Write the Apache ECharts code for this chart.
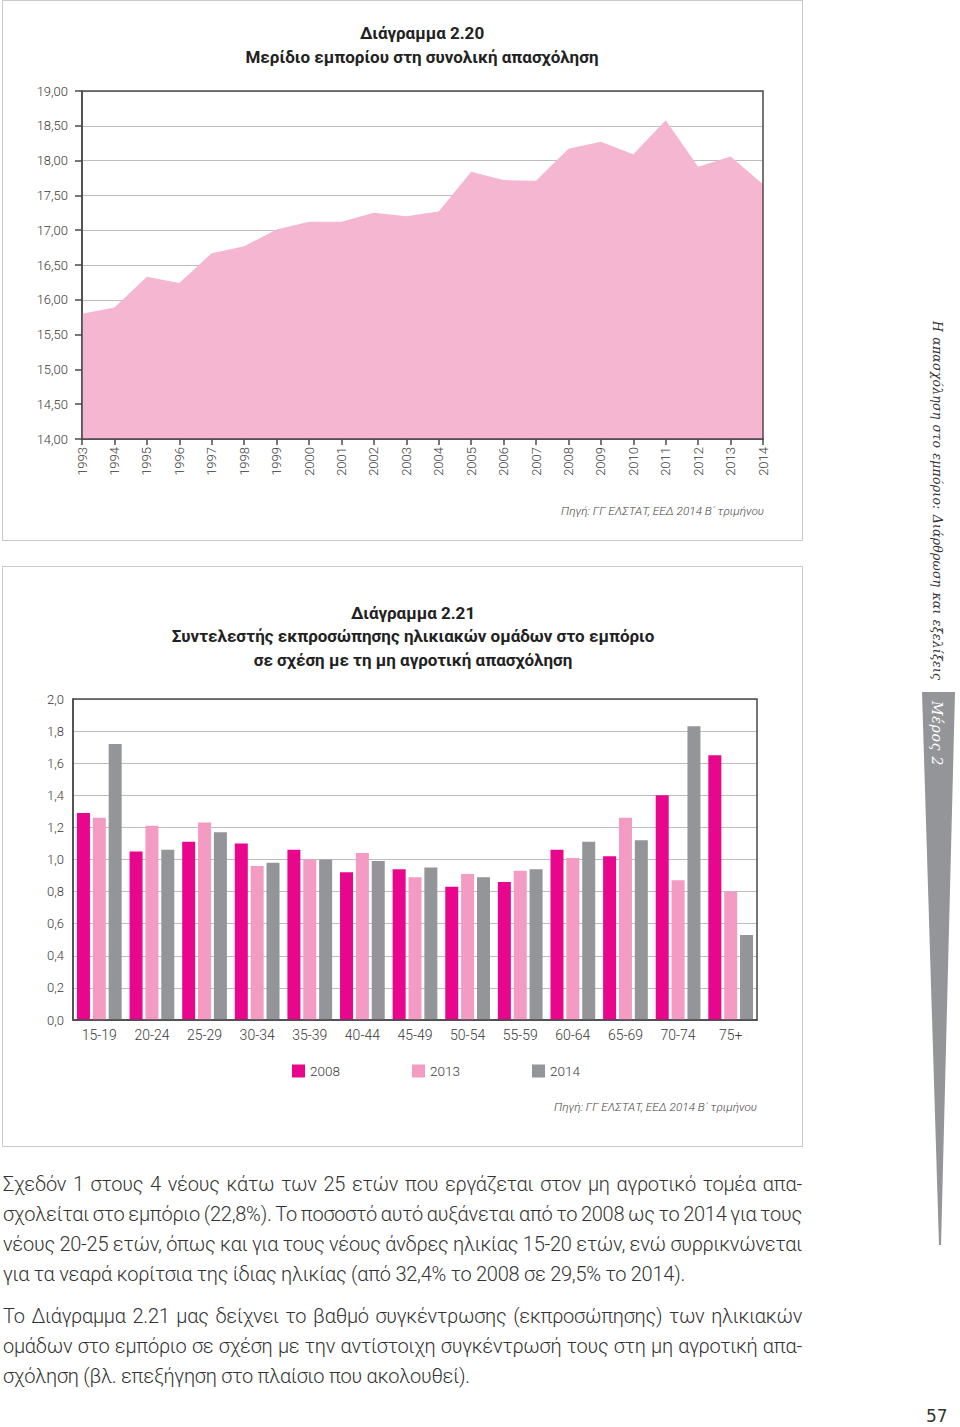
<!DOCTYPE html>
<html>
<head>
<meta charset="utf-8">
<script src="https://cdn.jsdelivr.net/npm/echarts@6/dist/echarts.min.js"></script>
<style>
  html, body { margin: 0; padding: 0; background: #fff; }
  body { width: 960px; height: 1427px; position: relative; overflow: hidden; font-family: Roboto, "Noto Sans", sans-serif; }
  .frame { position: absolute; border: 1.5px solid #cacaca; box-sizing: border-box; }
  #chart { position: absolute; left: 0; top: 0; width: 960px; height: 1150px; }
  #text { position: absolute; left: 3px; top: 1169px; width: 799px; color: #333; font-size: 20px; font-weight: 300; }
  #text .ln { height: 30px; line-height: 30px; text-align: justify; text-align-last: justify; white-space: nowrap; letter-spacing: -0.25px; word-spacing: -2.5px; }
  #text .ln.last { text-align-last: left; word-spacing: 0; }
  #text .gap { height: 12px; }
  #sidetitle { position: absolute; left: 930px; top: 321px; writing-mode: vertical-rl; font-family: "DejaVu Serif", "Liberation Serif", serif; font-style: italic; font-size: 12.5px; letter-spacing: 0.2px; word-spacing: 1px; color: #333; }
  #part { position: absolute; left: 929px; top: 701px; writing-mode: vertical-rl; font-family: "DejaVu Serif", "Liberation Serif", serif; font-style: italic; font-size: 14px; letter-spacing: 0.8px; color: #fff; }
  #taper { position: absolute; left: 0; top: 0; }
  #pageno { position: absolute; left: 926px; top: 1406px; font-family: "DejaVu Sans", sans-serif; font-size: 17px; color: #333; }
</style>
</head>
<body>
<div class="frame" style="left:2px;top:0px;width:801px;height:541px;"></div>
<div class="frame" style="left:2px;top:566px;width:801px;height:581px;"></div>
<svg id="taper" width="960" height="1427"><polygon points="922,692 955,692 941,1245 939,1245" fill="#939598"/></svg>
<div id="sidetitle">Η απασχόληση στο εμπόριο: Διάρθρωση και εξελίξεις</div>
<div id="part">Μέρος 2</div>
<div id="chart"></div>
<div id="text">
  <div class="ln">Σχεδόν 1 στους 4 νέους κάτω των 25 ετών που εργάζεται στον μη αγροτικό τομέα απα-</div>
  <div class="ln">σχολείται στο εμπόριο (22,8%). Το ποσοστό αυτό αυξάνεται από το 2008 ως το 2014 για τους</div>
  <div class="ln">νέους 20-25 ετών, όπως και για τους νέους άνδρες ηλικίας 15-20 ετών, ενώ συρρικνώνεται</div>
  <div class="ln last">για τα νεαρά κορίτσια της ίδιας ηλικίας (από 32,4% το 2008 σε 29,5% το 2014).</div>
  <div class="gap"></div>
  <div class="ln">Το Διάγραμμα 2.21 μας δείχνει το βαθμό συγκέντρωσης (εκπροσώπησης) των ηλικιακών</div>
  <div class="ln">ομάδων στο εμπόριο σε σχέση με την αντίστοιχη συγκέντρωσή τους στη μη αγροτική απα-</div>
  <div class="ln last">σχόληση (βλ. επεξήγηση στο πλαίσιο που ακολουθεί).</div>
</div>
<div id="pageno">57</div>
<script>
// ---- Chart 2.20 data ----
const years = ['1993','1994','1995','1996','1997','1998','1999','2000','2001','2002','2003',
               '2004','2005','2006','2007','2008','2009','2010','2011','2012','2013','2014'];
const tradeShare = [15.80, 15.89, 16.33, 16.24, 16.67, 16.77, 17.01, 17.12, 17.12, 17.25, 17.20,
                    17.27, 17.84, 17.72, 17.71, 18.17, 18.27, 18.09, 18.58, 17.91, 18.06, 17.66];

// ---- Chart 2.21 data ----
const ageGroups = ['15-19','20-24','25-29','30-34','35-39','40-44','45-49','50-54','55-59','60-64','65-69','70-74','75+'];
const ratio2008 = [1.29, 1.05, 1.11, 1.10, 1.06, 0.92, 0.94, 0.83, 0.86, 1.06, 1.02, 1.40, 1.65];
const ratio2013 = [1.26, 1.21, 1.23, 0.96, 1.00, 1.04, 0.89, 0.91, 0.93, 1.01, 1.26, 0.87, 0.80];
const ratio2014 = [1.72, 1.06, 1.17, 0.98, 1.00, 0.99, 0.95, 0.89, 0.94, 1.11, 1.12, 1.83, 0.53];
const seriesNames = ['2008', '2013', '2014'];

const title1 = ['Διάγραμμα 2.20', 'Μερίδιο εμπορίου στη συνολική απασχόληση'];
const title2 = ['Διάγραμμα 2.21', 'Συντελεστής εκπροσώπησης ηλικιακών ομάδων στο εμπόριο', 'σε σχέση με τη μη αγροτική απασχόληση'];
const sourceText = 'Πηγή: ΓΓ ΕΛΣΤΑΤ, ΕΕΔ 2014 Β΄ τριμήνου';

const C2008 = '#e8078c', C2013 = '#f39bc3', C2014 = '#939598', AREA = '#f5b6d1';
const FONT = 'Roboto, "Noto Sans", sans-serif';
const labelStyle = { fontFamily: FONT, fontWeight: 300, color: '#3a3a3a' };

function titleText(x, y, txt, size) {
  return { type: 'text', x: x, y: y, style: { text: txt, align: 'center', verticalAlign: 'middle',
    font: 'bold ' + size + 'px ' + FONT, fill: '#222' } };
}
function srcText(x, y) {
  return { type: 'text', x: x, y: y, style: { text: sourceText, align: 'right', verticalAlign: 'middle',
    font: 'italic 300 11.8px ' + FONT, fill: '#444' } };
}

const chart = echarts.init(document.getElementById('chart'), null, { renderer: 'svg' });
const legendBase = (name, left) => ({
  data: [name], left: left, top: 1064, icon: 'rect', itemWidth: 13, itemHeight: 13,
  selectedMode: false, padding: 0,
  textStyle: Object.assign({ fontSize: 13.5 }, labelStyle)
});

chart.setOption({
  animation: false,
  backgroundColor: 'transparent',
  color: [C2008, C2013, C2014],
  graphic: [
    titleText(422, 33, title1[0], 17),
    titleText(422, 57, title1[1], 17),
    titleText(413, 613, title2[0], 17),
    titleText(413, 636, title2[1], 17),
    titleText(413, 660, title2[2], 17),
    srcText(764, 511),
    srcText(757, 1107)
  ],
  legend: [legendBase('2008', 292), legendBase('2013', 412), legendBase('2014', 532)],
  grid: [
    { left: 82, top: 91, width: 681, height: 348, show: true, z: 5, borderColor: '#4a4a4a', borderWidth: 1.5, backgroundColor: 'transparent' },
    { left: 73, top: 699, width: 684, height: 321, show: true, z: 5, borderColor: '#4a4a4a', borderWidth: 1.5, backgroundColor: 'transparent' }
  ],
  xAxis: [
    { gridIndex: 0, type: 'category', data: years, boundaryGap: false,
      axisLine: { lineStyle: { color: '#4a4a4a', width: 1.5 } },
      axisTick: { show: true, length: 6, lineStyle: { color: '#4a4a4a', width: 1.5 } },
      axisLabel: Object.assign({ rotate: 90, fontSize: 13, margin: 8, interval: 0 }, labelStyle),
      splitLine: { show: false } },
    { gridIndex: 1, type: 'category', data: ageGroups,
      axisLine: { lineStyle: { color: '#4a4a4a', width: 1.5 } },
      axisTick: { show: false },
      axisLabel: Object.assign({ fontSize: 14, margin: 8, interval: 0 }, labelStyle) }
  ],
  yAxis: [
    { gridIndex: 0, type: 'value', min: 14, max: 19, interval: 0.5,
      axisLine: { show: true, lineStyle: { color: '#4a4a4a', width: 1.5 } },
      axisTick: { show: true, length: 7, lineStyle: { color: '#4a4a4a', width: 1.5 } },
      axisLabel: Object.assign({ fontSize: 13, margin: 14, formatter: v => v.toFixed(2).replace('.', ',') }, labelStyle),
      splitLine: { lineStyle: { color: '#bdbdbd', width: 1 } } },
    { gridIndex: 1, type: 'value', min: 0, max: 2, interval: 0.2,
      axisLine: { show: true, lineStyle: { color: '#4a4a4a', width: 1.5 } },
      axisTick: { show: false },
      axisLabel: Object.assign({ fontSize: 13, margin: 9, formatter: v => v.toFixed(1).replace('.', ',') }, labelStyle),
      splitLine: { lineStyle: { color: '#bdbdbd', width: 1 } } }
  ],
  series: [
    { type: 'line', xAxisIndex: 0, yAxisIndex: 0, data: tradeShare, symbol: 'none',
      lineStyle: { width: 0 }, areaStyle: { color: AREA, opacity: 1, origin: 'start' }, z: 2 },
    { name: seriesNames[0], type: 'bar', xAxisIndex: 1, yAxisIndex: 1, data: ratio2008, barWidth: 13, barGap: '22%', itemStyle: { color: C2008 } },
    { name: seriesNames[1], type: 'bar', xAxisIndex: 1, yAxisIndex: 1, data: ratio2013, barWidth: 13, barGap: '22%', itemStyle: { color: C2013 } },
    { name: seriesNames[2], type: 'bar', xAxisIndex: 1, yAxisIndex: 1, data: ratio2014, barWidth: 13, barGap: '22%', itemStyle: { color: C2014 } }
  ]
});
</script>
</body>
</html>
